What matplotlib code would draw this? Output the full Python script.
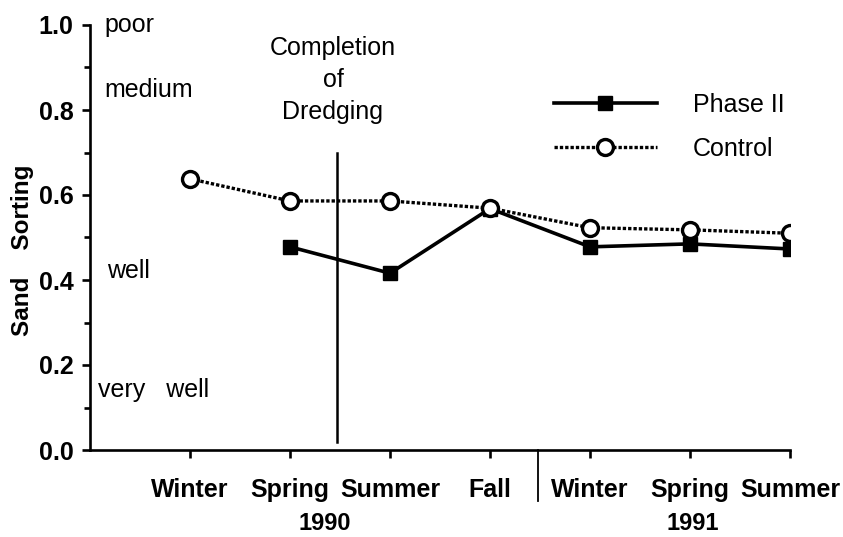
import matplotlib.pyplot as plt
import matplotlib.transforms as mtransforms
import numpy as np

plt.rcParams['font.family'] = ['Liberation Sans', 'DejaVu Sans']

# Sampling seasons, winter 1990 through summer 1991
seasons = ['Winter', 'Spring', 'Summer', 'Fall', 'Winter', 'Spring', 'Summer']
years = ['1990', '1991']
year_centers = [2.35, 6.03]

# Sand sorting coefficients
phase2_x = [2, 3, 4, 5, 6, 7]
phase2 = [0.478, 0.416, 0.568, 0.478, 0.485, 0.473]
control_x = [1, 2, 3, 4, 5, 6, 7]
control = [0.638, 0.586, 0.586, 0.569, 0.523, 0.518, 0.510]

# Verbal sorting classes along the y axis
classes = ['poor', 'medium', 'well', 'very   well']
class_x = [0.14, 0.14, 0.17, 0.08]
class_y = [1.0, 0.846, 0.42, 0.14]

dredge_x = 2.47
year_split_x = 4.48

fig = plt.figure(figsize=(8.43, 5.37), dpi=100)
ax = fig.add_axes([90 / 843, 1 - 450 / 537, 700 / 843, 425 / 537])

ax.plot(phase2_x, phase2, color='black', lw=2.6, marker='s', ms=9.5,
        mfc='black', mec='black', label='Phase II', zorder=3)
ax.plot(control_x, control, color='black', lw=2.4, ls=(0, (1, 0.6)),
        marker='o', ms=11.5, mfc='white', mec='black', mew=2.4,
        label='Control', zorder=4)

ax.set_xlim(0, 7)
ax.set_ylim(0, 1.0)
for side in ['top', 'right']:
    ax.spines[side].set_visible(False)
for side in ['left', 'bottom']:
    ax.spines[side].set_linewidth(1.9)

ax.set_xticks(np.arange(1, 8))
ax.set_xticklabels(seasons, fontsize=18, fontweight='bold')
ax.set_yticks(np.arange(0, 1.01, 0.2))
ax.set_yticklabels([f'{v:.1f}' for v in np.arange(0, 1.01, 0.2)],
                   fontsize=18, fontweight='bold')
ax.set_yticks(np.arange(0.1, 1.0, 0.2), minor=True)
ax.tick_params(axis='x', direction='out', length=6, width=1.9, pad=14)
ax.tick_params(axis='y', which='major', direction='out', length=6,
               width=1.9, pad=6)
ax.tick_params(axis='y', which='minor', direction='out', length=4, width=1.9)

fig.text(23 / 843, 1 - 250 / 537, 'Sand    Sorting', rotation=90,
         ha='center', va='center', fontsize=17.5, fontweight='bold')

# Completion of dredging marker
ax.plot([dredge_x, dredge_x], [0.02, 0.70], color='black', lw=1.8, zorder=2)
ax.text(dredge_x - 0.04, 0.975, 'Completion\nof\nDredging', ha='center',
        va='top', fontsize=18, linespacing=1.42)

# Year divider below the axis
trans = mtransforms.blended_transform_factory(ax.transData, ax.transAxes)
ax.plot([year_split_x, year_split_x], [0, -0.12], color='black', lw=1.3,
        transform=trans, clip_on=False)
for yr, xc in zip(years, year_centers):
    ax.text(xc, -0.172, yr, transform=trans, ha='center', va='center',
            fontsize=17, fontweight='bold')

for label, xv, yv in zip(classes, class_x, class_y):
    ax.text(xv, yv, label, ha='left', va='center', fontsize=18)

ax.legend(loc='upper left', bbox_to_anchor=(0.645, 0.87), frameon=False,
          fontsize=18, handlelength=4.1, handletextpad=1.45,
          labelspacing=0.8, borderpad=0)

fig.savefig('out.png', dpi=100)
